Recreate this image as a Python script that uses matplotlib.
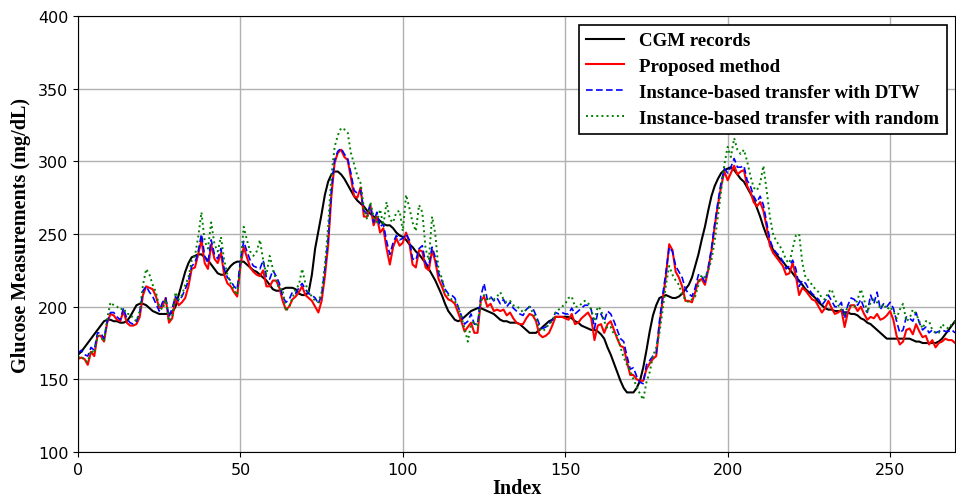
import numpy as np
import matplotlib
matplotlib.use("Agg")
import matplotlib.pyplot as plt

# Valores (indice 0..270)
cgm = [167, 169, 172, 175, 178, 181, 184, 187, 190, 191, 191, 190, 190, 189, 189, 190, 193, 197, 201, 202,
       202, 201, 199, 197, 196, 195, 195, 195, 195, 196, 200, 208, 216, 224, 230, 234, 235, 236, 236, 234,
       232, 229, 226, 223, 222, 222, 225, 228, 230, 231, 231, 231, 229, 227, 225, 224, 222, 220, 218, 215,
       212, 211, 211, 212, 213, 213, 213, 212, 209, 208, 208, 210, 222, 240, 252, 264, 277, 286, 291, 293,
       293, 291, 288, 284, 280, 276, 273, 271, 269, 266, 264, 262, 261, 259, 257, 256, 256, 254, 251, 249,
       248, 246, 243, 241, 238, 236, 233, 230, 226, 222, 218, 213, 208, 202, 197, 194, 191, 190, 191, 193,
       195, 197, 198, 199, 199, 198, 197, 196, 195, 193, 191, 190, 190, 189, 189, 189, 188, 186, 184, 182,
       182, 182, 184, 186, 188, 190, 191, 193, 193, 193, 193, 193, 192, 190, 189, 187, 186, 185, 184, 184,
       183, 181, 178, 172, 167, 161, 155, 149, 144, 141, 141, 141, 144, 149, 158, 170, 183, 194, 201, 206,
       207, 208, 207, 206, 206, 207, 209, 212, 215, 220, 228, 236, 246, 255, 266, 276, 283, 288, 292, 294,
       295, 296, 294, 291, 288, 286, 282, 278, 274, 268, 262, 255, 249, 244, 239, 236, 233, 231, 228, 226,
       223, 220, 218, 215, 212, 210, 208, 206, 203, 201, 199, 198, 198, 197, 197, 197, 196, 196, 195, 195,
       194, 192, 191, 189, 188, 186, 184, 182, 180, 178, 178, 178, 178, 178, 178, 178, 178, 177, 176, 176,
       175, 175, 175, 175, 175, 176, 178, 181, 184, 187, 190]

proposto = [164, 165, 164, 160, 169, 166, 180, 180, 176, 189, 195, 194, 191, 190, 197, 189, 187, 187, 188, 193,
            208, 214, 213, 212, 207, 199, 200, 206, 189, 192, 206, 201, 203, 206, 214, 226, 227, 236, 246, 230,
            226, 243, 233, 230, 237, 222, 216, 214, 210, 207, 228, 241, 234, 227, 224, 222, 221, 225, 214, 214,
            218, 218, 213, 204, 198, 200, 205, 207, 210, 214, 208, 206, 204, 200, 196, 204, 221, 242, 276, 299,
            306, 308, 303, 301, 289, 276, 275, 282, 262, 262, 270, 256, 262, 251, 254, 240, 229, 241, 247, 242,
            244, 251, 244, 229, 227, 239, 238, 227, 225, 239, 231, 219, 214, 208, 205, 204, 202, 196, 190, 183,
            186, 189, 182, 182, 204, 207, 200, 202, 197, 198, 197, 198, 194, 196, 192, 189, 188, 188, 192, 195,
            194, 190, 181, 179, 180, 182, 187, 193, 193, 193, 192, 191, 195, 188, 189, 192, 194, 196, 192, 177,
            187, 188, 182, 188, 190, 184, 178, 173, 172, 162, 153, 153, 150, 149, 149, 157, 161, 164, 166, 187,
            205, 221, 243, 239, 224, 220, 214, 204, 204, 203, 210, 218, 219, 215, 225, 238, 255, 270, 283, 293,
            287, 292, 297, 291, 293, 294, 283, 279, 272, 269, 272, 266, 255, 242, 237, 234, 231, 228, 222, 223,
            230, 221, 208, 213, 211, 208, 205, 204, 200, 196, 199, 204, 199, 195, 196, 198, 186, 196, 201, 201,
            197, 200, 195, 191, 193, 192, 195, 191, 192, 194, 197, 191, 180, 174, 176, 184, 185, 181, 188, 183,
            179, 180, 174, 177, 172, 175, 176, 178, 177, 177, 175]

dtw = [168, 170, 167, 166, 172, 170, 182, 182, 178, 190, 196, 196, 193, 191, 199, 192, 189, 188, 190, 196,
       211, 214, 210, 207, 202, 197, 203, 206, 193, 199, 207, 204, 207, 212, 218, 228, 230, 238, 250, 235,
       230, 246, 236, 233, 240, 226, 220, 218, 214, 212, 232, 245, 238, 232, 228, 227, 226, 232, 220, 219,
       225, 221, 216, 207, 203, 205, 210, 209, 213, 216, 212, 209, 208, 206, 202, 208, 226, 246, 280, 301,
       307, 309, 305, 302, 292, 280, 278, 280, 266, 264, 270, 258, 265, 255, 257, 245, 236, 244, 249, 246,
       247, 250, 246, 233, 232, 240, 242, 230, 228, 241, 234, 223, 218, 212, 209, 208, 206, 200, 194, 188,
       190, 195, 188, 188, 207, 216, 205, 207, 204, 206, 202, 205, 200, 203, 199, 197, 195, 194, 198, 200,
       199, 194, 188, 185, 186, 188, 191, 196, 195, 196, 195, 195, 199, 195, 197, 199, 201, 201, 198, 185,
       196, 195, 190, 197, 195, 190, 184, 178, 176, 166, 157, 158, 152, 148, 147, 160, 163, 166, 168, 190,
       208, 224, 241, 238, 228, 224, 220, 212, 209, 207, 213, 222, 221, 217, 227, 240, 257, 272, 286, 295,
       292, 296, 302, 296, 296, 297, 287, 283, 276, 272, 276, 270, 258, 246, 240, 237, 235, 231, 226, 228,
       232, 226, 214, 218, 216, 212, 209, 207, 205, 201, 204, 208, 204, 200, 200, 203, 192, 201, 206, 205,
       201, 205, 199, 196, 208, 202, 210, 198, 202, 200, 203, 199, 190, 182, 184, 193, 192, 190, 196, 189,
       184, 186, 182, 184, 182, 183, 184, 183, 183, 184, 182]

aleatorio = [165, 166, 163, 162, 170, 168, 180, 179, 176, 192, 203, 201, 200, 198, 199, 195, 195, 192, 190, 197,
             215, 226, 222, 215, 210, 200, 198, 205, 190, 193, 210, 205, 208, 215, 220, 232, 235, 248, 265, 245,
             240, 258, 243, 238, 248, 232, 222, 216, 212, 208, 228, 255, 246, 238, 235, 238, 246, 232, 222, 235,
             226, 218, 212, 212, 197, 200, 206, 212, 215, 226, 216, 210, 207, 204, 203, 210, 228, 255, 290, 310,
             318, 323, 322, 320, 306, 298, 290, 285, 268, 260, 272, 262, 258, 267, 256, 272, 260, 258, 265, 266,
             252, 277, 268, 258, 252, 270, 265, 240, 232, 262, 250, 225, 220, 210, 208, 205, 204, 200, 193, 185,
             176, 188, 190, 186, 204, 208, 204, 206, 205, 207, 210, 205, 203, 204, 201, 200, 199, 196, 198, 200,
             196, 192, 185, 183, 185, 188, 190, 196, 198, 200, 202, 206, 207, 200, 200, 202, 204, 203, 198, 190,
             200, 198, 190, 185, 186, 181, 180, 172, 165, 160, 156, 150, 145, 140, 136, 148, 155, 166, 172, 182,
             198, 215, 228, 222, 218, 215, 208, 205, 203, 205, 207, 215, 222, 220, 225, 232, 245, 262, 280, 298,
             310, 303, 316, 308, 305, 308, 300, 290, 282, 280, 285, 297, 280, 262, 250, 245, 242, 238, 232, 230,
             240, 249, 250, 230, 220, 218, 215, 212, 210, 206, 205, 210, 212, 205, 201, 198, 195, 200, 201, 200,
             205, 212, 205, 196, 203, 205, 203, 199, 202, 198, 200, 197, 192, 198, 202, 190, 192, 198, 195, 190,
             185, 190, 190, 184, 182, 182, 188, 186, 185, 188, 190]

indice = np.arange(len(cgm))

fig, ax = plt.subplots(figsize=(9.56, 5.02))
fig.subplots_adjust(left=0.0816, right=0.999, top=0.966, bottom=0.0976)

ax.plot(indice, cgm, color="black", linewidth=1.5, label="CGM records")
ax.plot(indice, proposto, color="red", linewidth=1.5, label="Proposed method")
ax.plot(indice, dtw, color="blue", linewidth=1.2, linestyle="--", dashes=(4, 2),
        label="Instance-based transfer with DTW")
ax.plot(indice, aleatorio, color="green", linewidth=1.4, linestyle=":",
        label="Instance-based transfer with random")

ax.set_xlim(0, 270)
ax.set_ylim(100, 400)
ax.set_xticks([0, 50, 100, 150, 200, 250])
ax.set_yticks([100, 150, 200, 250, 300, 350, 400])
ax.tick_params(labelsize=11.5)
ax.grid(True, color="#b0b0b0", linewidth=1.0)

for lado in ax.spines.values():
    lado.set_color("black")

fonte = {"family": "Liberation Serif", "weight": "bold", "size": 14.5}
ax.set_xlabel("Index", fontdict=fonte, labelpad=1)
ax.set_ylabel("Glucose Measurements (mg/dL)", fontdict=fonte, labelpad=5)

leg = ax.legend(loc="upper right", prop={"family": "Liberation Serif", "weight": "bold", "size": 13.6},
                fancybox=False, framealpha=1, edgecolor="black", handlelength=2.0,
                handletextpad=0.8, borderaxespad=0.45, labelspacing=0.45)
leg.get_frame().set_linewidth(1.2)

fig.savefig("out.png", dpi=100)
plt.close("all")
